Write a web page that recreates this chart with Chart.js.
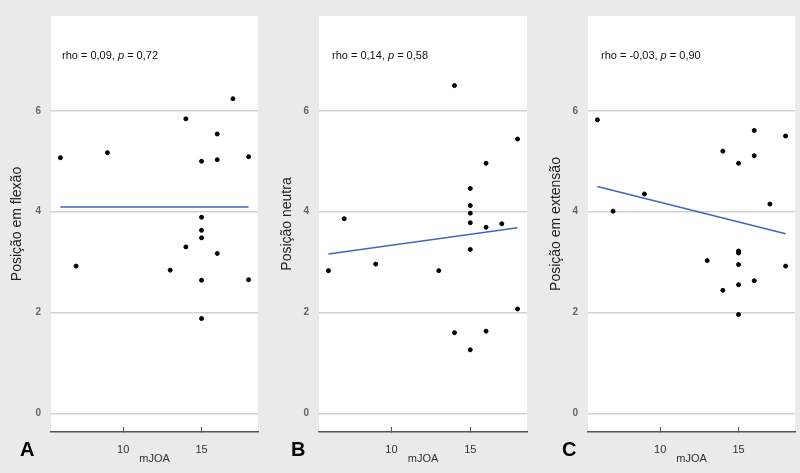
<!DOCTYPE html>
<html>
<head>
<meta charset="utf-8">
<script src="https://cdn.jsdelivr.net/npm/chart.js@4"></script>
<style>
	body { margin: 0; background: #eaeaea; width: 800px; height: 473px; overflow: hidden; position: relative; font-family: "Liberation Sans", Arial, sans-serif; }
	canvas { position: absolute; top: 0; }
	.letter { position: absolute; top: 438px; font-weight: bold; font-size: 20px; color: #000; }
</style>
</head>
<body>
<canvas id="chartA" width="265" height="473" style="left:0px"></canvas>
<canvas id="chartB" width="265" height="473" style="left:265px"></canvas>
<canvas id="chartC" width="270" height="473" style="left:530px"></canvas>
<div class="letter" style="left:20px">A</div>
<div class="letter" style="left:291px">B</div>
<div class="letter" style="left:562px">C</div>
<script>
// mJOA score of each patient (same patients in the three panels)
const mjoa = [6, 7, 9, 13, 14, 14, 15, 15, 15, 15, 15, 15, 16, 16, 16, 17, 18, 18];
const flexao = [5.07, 2.92, 5.17, 2.84, 5.84, 3.30, 5.00, 3.89, 3.63, 3.48, 2.64, 1.88, 5.54, 5.03, 3.17, 6.24, 5.09, 2.65];
const neutra = [2.83, 3.86, 2.96, 2.83, 6.50, 1.60, 4.46, 4.12, 3.97, 3.78, 3.25, 1.26, 4.96, 3.69, 1.63, 3.76, 5.44, 2.07];
const extensao = [5.82, 4.01, 4.35, 3.03, 5.20, 2.44, 4.96, 3.22, 3.18, 2.95, 2.55, 1.96, 5.61, 5.11, 2.63, 4.15, 5.50, 2.92];

// regression line ends (at fitX)
const fitX = [6, 18];
const flexaoFit = [4.09, 4.09];
const neutraFit = [3.16, 3.68];
const extensaoFit = [4.50, 3.56];

const xTicks = [10, 15];
const yTicks = [0, 2, 4, 6];

const panels = [
	{ id: 'chartA', title: 'Posição em flexão', y: flexao, fit: flexaoFit, rho: '0,09', p: '0,72', yWidth: 51, padRight: 7, titlePad: 9, textDx: 11 },
	{ id: 'chartB', title: 'Posição neutra', y: neutra, fit: neutraFit, rho: '0,14', p: '0,58', yWidth: 54, padRight: 3, titlePad: 14, textDx: 13 },
	{ id: 'chartC', title: 'Posição em extensão', y: extensao, fit: extensaoFit, rho: '-0,03', p: '0,90', yWidth: 58, padRight: 5, titlePad: 18, textDx: 13 }
];

const FONT = '"Liberation Sans", Arial, sans-serif';

const whiteArea = {
	id: 'whiteArea',
	beforeDraw(chart) {
		const a = chart.chartArea;
		const ctx = chart.ctx;
		ctx.save();
		ctx.fillStyle = '#ffffff';
		ctx.fillRect(a.left, a.top, a.right - a.left, a.bottom - a.top);
		ctx.restore();
	}
};

const rhoText = {
	id: 'rhoText',
	afterDraw(chart, args, opts) {
		const ctx = chart.ctx;
		let x = chart.chartArea.left + opts.dx;
		const y = 56;
		ctx.save();
		ctx.fillStyle = '#111';
		ctx.textBaseline = 'middle';
		const parts = [
			['rho = ' + opts.rho + ', ', 'normal'],
			['p', 'italic'],
			[' = ' + opts.p, 'normal']
		];
		parts.forEach(part => {
			ctx.font = part[1] + ' 11px ' + FONT;
			ctx.fillText(part[0], x, y);
			x += ctx.measureText(part[0]).width;
		});
		ctx.restore();
	}
};

panels.forEach(panel => {
	const ctx = document.getElementById(panel.id).getContext('2d');
	new Chart(ctx, {
		type: 'scatter',
		data: {
			datasets: [
				{
					data: mjoa.map((x, i) => ({ x: x, y: panel.y[i] })),
					backgroundColor: '#000',
					borderColor: '#000',
					pointRadius: 2,
					pointHoverRadius: 2
				},
				{
					data: fitX.map((x, i) => ({ x: x, y: panel.fit[i] })),
					showLine: true,
					borderColor: '#4465bf',
					borderWidth: 1.5,
					pointRadius: 0,
					fill: false
				}
			]
		},
		options: {
			responsive: false,
			animation: false,
			devicePixelRatio: 1,
			layout: { padding: { top: 9, right: panel.padRight, left: 0, bottom: 0 } },
			plugins: {
				legend: { display: false },
				tooltip: { enabled: false },
				rhoText: { rho: panel.rho, p: panel.p, dx: panel.textDx }
			},
			scales: {
				x: {
					type: 'linear',
					min: 5.4,
					max: 18.6,
					afterBuildTicks: s => { s.ticks = xTicks.map(v => ({ value: v })); },
					afterFit: s => { s.height = 41; },
					border: { display: true, color: '#555', width: 1.5 },
					grid: { drawOnChartArea: false, color: '#555', tickLength: -5, lineWidth: 1 },
					ticks: { color: '#333', font: { family: FONT, size: 11 }, padding: 16, maxRotation: 0 },
					title: { display: true, text: 'mJOA', color: '#333', font: { family: FONT, size: 11 }, padding: { top: 0, bottom: 7 } }
				},
				y: {
					type: 'linear',
					min: -0.37,
					max: 7.88,
					afterBuildTicks: s => { s.ticks = yTicks.map(v => ({ value: v })); },
					afterFit: s => { s.width = panel.yWidth; },
					border: { display: false },
					grid: { color: '#d2d2d2', lineWidth: 1.5, drawTicks: false },
					ticks: { color: '#666', font: { family: FONT, size: 10, weight: 'bold' }, padding: 10 },
					title: { display: true, text: panel.title, color: '#222', font: { family: FONT, size: 14 }, padding: { top: panel.titlePad, bottom: 0 } }
				}
			}
		},
		plugins: [whiteArea, rhoText]
	});
});
</script>
</body>
</html>
